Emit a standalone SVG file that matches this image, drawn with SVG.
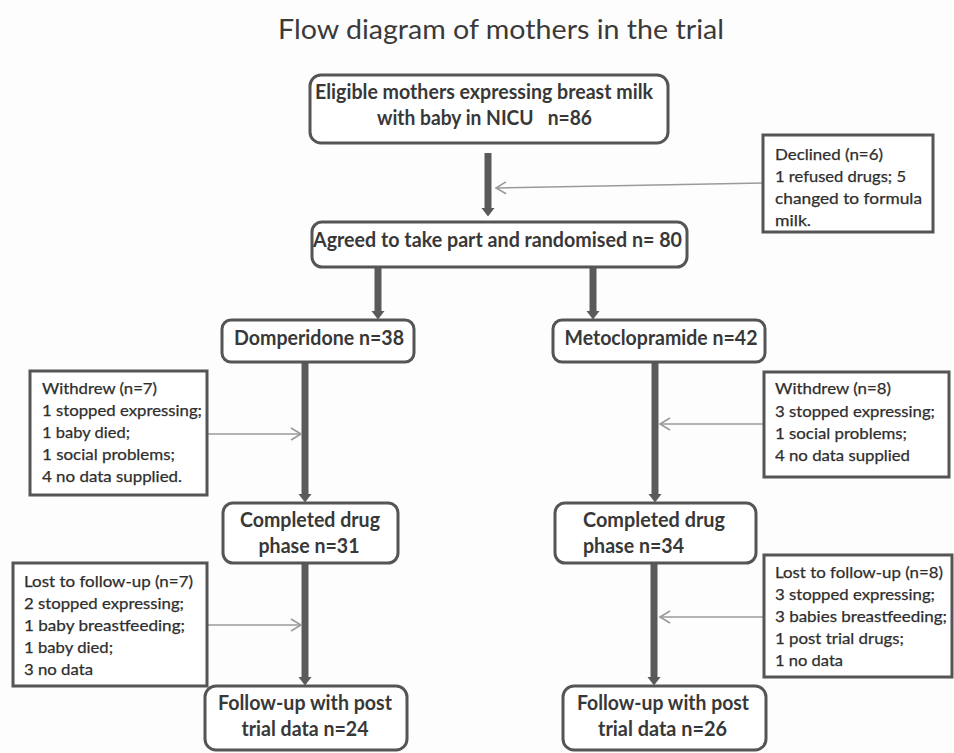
<svg xmlns="http://www.w3.org/2000/svg" width="954" height="753" viewBox="0 0 954 753">
<style>
  .bg{fill:#fdfdfd}
  .title{font-family:Lato,"Open Sans","Liberation Sans",sans-serif;font-size:27px;fill:#3a3a3a}
  .node rect.r{fill:#ffffff;stroke:#555555;stroke-width:3}
  .side rect{fill:#ffffff;stroke:#555555;stroke-width:3}
  .mt{font-family:Lato,"Open Sans","Liberation Sans",sans-serif;font-size:20px;font-weight:bold;fill:#383838;text-anchor:middle}
  .st{font-family:Lato,"Open Sans","Liberation Sans",sans-serif;font-size:16px;fill:#2e2e2e;stroke:#2e2e2e;stroke-width:0.25}
  .thick{stroke:#5a5a5a;stroke-width:7;fill:none}
  .thin{stroke:#9a9a9a;stroke-width:1.6;fill:none}
</style>
<defs>
  <marker id="head" markerUnits="userSpaceOnUse" viewBox="0 -7 9 14" refX="0" refY="0" markerWidth="9" markerHeight="14" orient="auto">
    <path d="M0,-6.5 L8.5,0 L0,6.5 Z" fill="#5a5a5a"/>
  </marker>
  <marker id="chev" markerUnits="userSpaceOnUse" viewBox="-12 -8 14 16" refX="0" refY="0" markerWidth="14" markerHeight="16" orient="auto">
    <path d="M-10,-6 L0,0 L-10,6" fill="none" stroke="#9a9a9a" stroke-width="1.6"/>
  </marker>
</defs>
<rect class="bg" x="0" y="0" width="954" height="753"/>
<text class="title" x="501" y="39" text-anchor="middle" textLength="446" lengthAdjust="spacingAndGlyphs">Flow diagram of mothers in the trial</text>

<g id="connectors">
  <line class="thick" x1="488" y1="153" x2="488" y2="208" marker-end="url(#head)"/>
  <line class="thick" x1="378" y1="267" x2="378" y2="311" marker-end="url(#head)"/>
  <line class="thick" x1="593" y1="267" x2="593" y2="311" marker-end="url(#head)"/>
  <line class="thick" x1="305" y1="362" x2="305" y2="494" marker-end="url(#head)"/>
  <line class="thick" x1="655" y1="362" x2="655" y2="494" marker-end="url(#head)"/>
  <line class="thick" x1="305" y1="563" x2="305" y2="677" marker-end="url(#head)"/>
  <line class="thick" x1="654" y1="563" x2="654" y2="677" marker-end="url(#head)"/>
  <line class="thin" x1="763" y1="183" x2="496" y2="188" marker-end="url(#chev)"/>
  <line class="thin" x1="207" y1="434" x2="301" y2="434" marker-end="url(#chev)"/>
  <line class="thin" x1="764" y1="424" x2="660" y2="424" marker-end="url(#chev)"/>
  <line class="thin" x1="207" y1="625" x2="301" y2="625" marker-end="url(#chev)"/>
  <line class="thin" x1="764" y1="617" x2="660" y2="617" marker-end="url(#chev)"/>
</g>

<g id="eligible" class="node">
  <rect class="r" x="310" y="75" width="358" height="68" rx="11"/>
  <text class="mt" x="484" y="99" textLength="338" lengthAdjust="spacingAndGlyphs">Eligible mothers expressing breast milk</text>
  <text class="mt" x="484.5" y="125" textLength="215" lengthAdjust="spacingAndGlyphs" xml:space="preserve">with baby in NICU   n=86</text>
</g>

<g id="randomised" class="node">
  <rect class="r" x="312" y="222" width="375" height="45" rx="10"/>
  <text class="mt" x="497.5" y="247" textLength="369" lengthAdjust="spacingAndGlyphs">Agreed to take part and randomised n= 80</text>
</g>

<g id="declined" class="side">
  <rect x="763" y="135" width="170" height="97"/>
  <text class="st" x="775" y="160" textLength="108" lengthAdjust="spacingAndGlyphs">Declined (n=6)</text>
  <text class="st" x="775" y="182" textLength="131" lengthAdjust="spacingAndGlyphs">1 refused drugs; 5</text>
  <text class="st" x="775" y="204" textLength="147" lengthAdjust="spacingAndGlyphs">changed to formula</text>
  <text class="st" x="775" y="226" textLength="36" lengthAdjust="spacingAndGlyphs">milk.</text>
</g>

<g id="domperidone" class="node">
  <rect class="r" x="222" y="320" width="192" height="42" rx="9"/>
  <text class="mt" x="319" y="345" textLength="170" lengthAdjust="spacingAndGlyphs">Domperidone n=38</text>
</g>

<g id="metoclopramide" class="node">
  <rect class="r" x="553" y="320" width="212" height="42" rx="9"/>
  <text class="mt" x="661" y="345" textLength="193" lengthAdjust="spacingAndGlyphs">Metoclopramide n=42</text>
</g>

<g id="withdrew7" class="side">
  <rect x="30" y="371" width="177" height="124"/>
  <text class="st" x="42" y="394" textLength="115" lengthAdjust="spacingAndGlyphs">Withdrew (n=7)</text>
  <text class="st" x="42" y="416" textLength="160" lengthAdjust="spacingAndGlyphs">1 stopped expressing;</text>
  <text class="st" x="42" y="438" textLength="88" lengthAdjust="spacingAndGlyphs">1 baby died;</text>
  <text class="st" x="42" y="460" textLength="133" lengthAdjust="spacingAndGlyphs">1 social problems;</text>
  <text class="st" x="42" y="482" textLength="140" lengthAdjust="spacingAndGlyphs">4 no data supplied.</text>
</g>

<g id="withdrew8" class="side">
  <rect x="764" y="372" width="185" height="105"/>
  <text class="st" x="775" y="394" textLength="116" lengthAdjust="spacingAndGlyphs">Withdrew (n=8)</text>
  <text class="st" x="775" y="417" textLength="160" lengthAdjust="spacingAndGlyphs">3 stopped expressing;</text>
  <text class="st" x="775" y="439" textLength="132" lengthAdjust="spacingAndGlyphs">1 social problems;</text>
  <text class="st" x="775" y="461" textLength="135" lengthAdjust="spacingAndGlyphs">4 no data supplied</text>
</g>

<g id="completed31" class="node">
  <rect class="r" x="223" y="503" width="175" height="60" rx="10"/>
  <text class="mt" x="310" y="527" textLength="140" lengthAdjust="spacingAndGlyphs">Completed drug</text>
  <text class="mt" x="309" y="553" textLength="101" lengthAdjust="spacingAndGlyphs">phase n=31</text>
</g>

<g id="completed34" class="node">
  <rect class="r" x="555" y="503" width="201" height="60" rx="10"/>
  <text class="mt" x="654" y="527" textLength="142" lengthAdjust="spacingAndGlyphs">Completed drug</text>
  <text class="mt" x="633.5" y="553" textLength="101" lengthAdjust="spacingAndGlyphs">phase n=34</text>
</g>

<g id="lost7" class="side">
  <rect x="13" y="563" width="194" height="123"/>
  <text class="st" x="24" y="587" textLength="169" lengthAdjust="spacingAndGlyphs">Lost to follow-up (n=7)</text>
  <text class="st" x="24" y="609" textLength="160" lengthAdjust="spacingAndGlyphs">2 stopped expressing;</text>
  <text class="st" x="24" y="631" textLength="161" lengthAdjust="spacingAndGlyphs">1 baby breastfeeding;</text>
  <text class="st" x="24" y="653" textLength="89" lengthAdjust="spacingAndGlyphs">1 baby died;</text>
  <text class="st" x="24" y="675" textLength="69" lengthAdjust="spacingAndGlyphs">3 no data</text>
</g>

<g id="lost8" class="side">
  <rect x="764" y="555" width="188" height="122"/>
  <text class="st" x="775" y="578" textLength="168" lengthAdjust="spacingAndGlyphs">Lost to follow-up (n=8)</text>
  <text class="st" x="775" y="600" textLength="160" lengthAdjust="spacingAndGlyphs">3 stopped expressing;</text>
  <text class="st" x="775" y="622" textLength="172" lengthAdjust="spacingAndGlyphs">3 babies breastfeeding;</text>
  <text class="st" x="775" y="644" textLength="129" lengthAdjust="spacingAndGlyphs">1 post trial drugs;</text>
  <text class="st" x="775" y="666" textLength="68" lengthAdjust="spacingAndGlyphs">1 no data</text>
</g>

<g id="followup24" class="node">
  <rect class="r" x="205" y="686" width="202" height="64" rx="11"/>
  <text class="mt" x="305" y="710" textLength="174" lengthAdjust="spacingAndGlyphs">Follow-up with post</text>
  <text class="mt" x="305" y="736" textLength="127" lengthAdjust="spacingAndGlyphs">trial data n=24</text>
</g>

<g id="followup26" class="node">
  <rect class="r" x="563" y="686" width="203" height="64" rx="11"/>
  <text class="mt" x="663" y="710" textLength="172" lengthAdjust="spacingAndGlyphs">Follow-up with post</text>
  <text class="mt" x="662.5" y="736" textLength="129" lengthAdjust="spacingAndGlyphs">trial data n=26</text>
</g>
</svg>
